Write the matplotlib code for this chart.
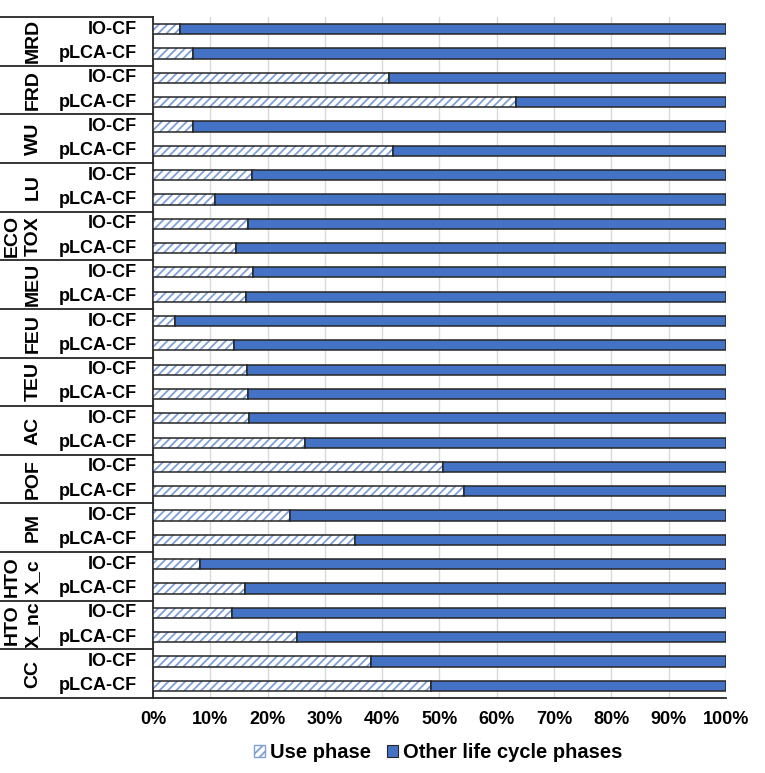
import numpy as np
import matplotlib.pyplot as plt
from matplotlib.patches import Patch
from matplotlib.transforms import blended_transform_factory

plt.rcParams["font.family"] = ["Liberation Sans", "DejaVu Sans"]
plt.rcParams["font.weight"] = "bold"
plt.rcParams["hatch.linewidth"] = 1.3

categories = ["MRD", "FRD", "WU", "LU", "ECO\nTOX", "MEU", "FEU", "TEU", "AC",
              "POF", "PM", "HTO\nX_c", "HTO\nX_nc", "CC"]
methods = ["IO-CF", "pLCA-CF"]
use_io = [4.7, 41.2, 6.9, 17.3, 16.6, 17.5, 3.8, 16.4, 16.8, 50.6, 23.9, 8.2, 13.8, 38.0]
use_plca = [7.0, 63.4, 41.9, 10.8, 14.5, 16.2, 14.1, 16.6, 26.5, 54.3, 35.3, 16.1, 25.1, 48.5]
xticks = [0, 10, 20, 30, 40, 50, 60, 70, 80, 90, 100]
legend_labels = ["Use phase", "Other life cycle phases"]

blue = "#4472C4"
hatch_blue = "#7F9FD8"
edge = "#262626"
grid = "#D9D9D9"

fig = plt.figure(figsize=(7.65, 7.73), dpi=100)
ax = fig.add_axes([0.2, 0.097, 0.749, 0.881])

n = len(categories)
ax.set_ylim(2 * n, 0)
ax.set_xlim(0, 100)

use = np.array([v for pair in zip(use_io, use_plca) for v in pair])
other = 100 - use
y = np.arange(2 * n) + 0.5
h = 0.42

# hatched part (hatch drawn in light blue), then dark outline on top
ax.barh(y, use, height=h, color="white", edgecolor=hatch_blue, hatch="////",
        linewidth=0, zorder=3)
ax.barh(y, use, height=h, fill=False, edgecolor=edge, linewidth=1.1, zorder=4)
ax.barh(y, other, left=use, height=h, color=blue, edgecolor=edge,
        linewidth=1.1, zorder=4)

ax.set_xticks(xticks, [f"{t}%" for t in xticks])
ax.set_yticks([])
ax.tick_params(axis="x", length=0, pad=9, labelsize=13)
ax.grid(axis="x", color=grid, linewidth=1.0, zorder=0)
for s in ["top", "right"]:
    ax.spines[s].set_visible(False)
ax.spines["left"].set_color(edge)
ax.spines["left"].set_linewidth(1.3)
ax.spines["bottom"].set_visible(False)

# left label table
tr = blended_transform_factory(fig.transFigure, ax.transData)
for k in range(n + 1):
    x_end = 0.2 if k < n else 0.949
    ax.plot([0, x_end], [2 * k, 2 * k], color=edge, linewidth=1.3,
            transform=tr, clip_on=False, zorder=5)
for k, cat in enumerate(categories):
    xc = 22.5 if "\n" in cat else 33
    ax.text(xc / 765, 2 * k + 1, cat, transform=tr, rotation=90, ha="center",
            va="center", fontsize=14, fontweight="bold", linespacing=1.3,
            multialignment="center")
    for j, m in enumerate(methods):
        ax.text(137 / 765, 2 * k + j + 0.5, m, transform=tr, ha="right",
                va="center", fontsize=13, fontweight="bold")

handles = [Patch(facecolor="white", edgecolor=hatch_blue, hatch="////"),
           Patch(facecolor=blue, edgecolor=edge, linewidth=0.8)]
fig.legend(handles, legend_labels, loc="center", bbox_to_anchor=(0.573, 0.026),
           ncol=2, frameon=False, fontsize=14.5, handlelength=0.55,
           handleheight=0.55, handletextpad=0.25, columnspacing=0.8)

fig.savefig("out.png", dpi=100, facecolor="white")
